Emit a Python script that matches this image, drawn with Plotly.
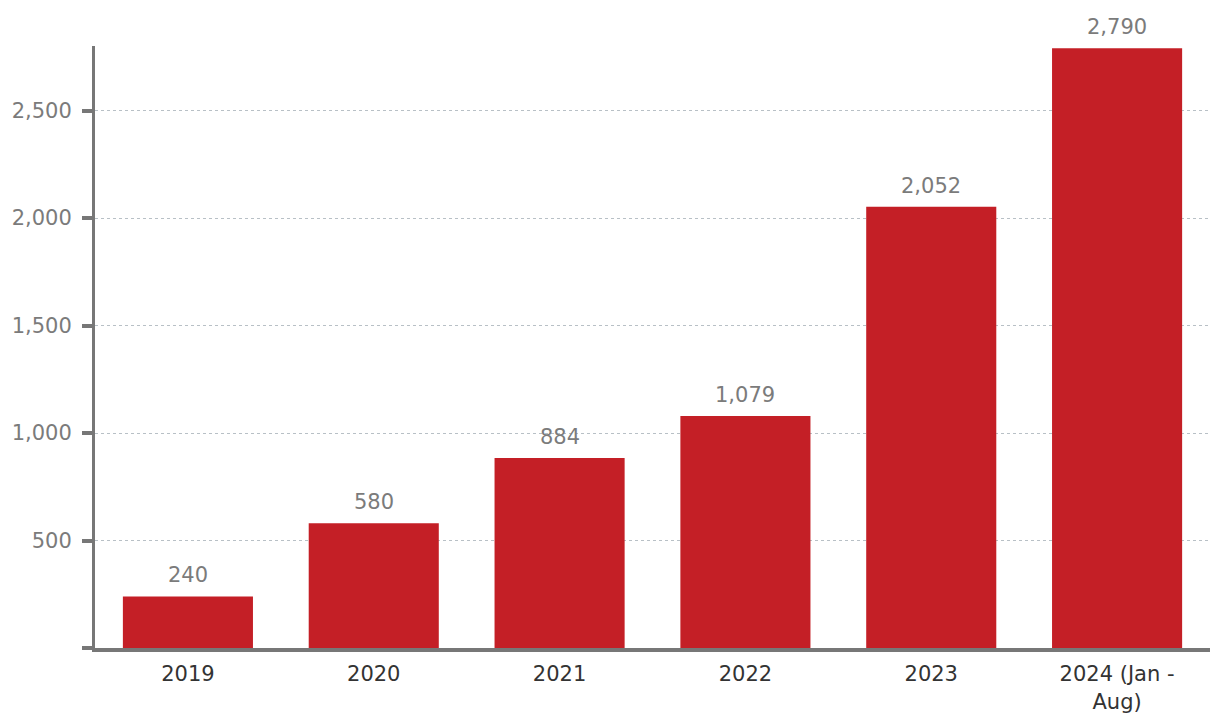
import plotly.graph_objects as go

categories = ["2019", "2020", "2021", "2022", "2023", "2024 (Jan -<br>Aug)"]
values = [240, 580, 884, 1079, 2052, 2790]
y_tickvals = [0, 500, 1000, 1500, 2000, 2500]
y_ticktext = ["", "500", "1,000", "1,500", "2,000", "2,500"]

FONT = "DejaVu Sans"
BAR = "#C41F26"
AXIS = "#777777"
LABEL_GREY = "#7b7b7b"

fig = go.Figure()
fig.add_trace(go.Bar(
    x=categories, y=values, marker=dict(color=BAR, line=dict(width=0)),
    hoverinfo="skip",
))

for i, v in enumerate(values):
    fig.add_annotation(x=i, y=v, text=f"{v:,}", showarrow=False,
                       xref="x", yref="y",
                       yanchor="bottom", yshift=7,
                       font=dict(family=FONT, size=21, color=LABEL_GREY))

fig.update_layout(
    width=1220, height=728,
    margin=dict(l=87, r=18, t=38, b=88),
    paper_bgcolor="white", plot_bgcolor="white",
    bargap=0.3, showlegend=False,
    font=dict(family=FONT),
    xaxis=dict(
        type="category", categoryorder="array", categoryarray=categories,
        automargin=False,
        showline=True, linecolor=AXIS, linewidth=4,
        ticks="", showgrid=False,
        tickfont=dict(family=FONT, size=21, color="#333333"),
        ticklabelstandoff=4,
    ),
    yaxis=dict(
        automargin=False,
        range=[0, 2800], tickvals=y_tickvals, ticktext=y_ticktext,
        showline=True, linecolor=AXIS, linewidth=3,
        ticks="outside", ticklen=10, tickwidth=4, tickcolor=AXIS,
        showgrid=True, gridcolor="#b8c0c6", griddash="dot", gridwidth=1,
        zeroline=False,
        tickfont=dict(family=FONT, size=21, color=LABEL_GREY),
        ticklabelstandoff=6,
    ),
)

fig.write_html("out.html")
